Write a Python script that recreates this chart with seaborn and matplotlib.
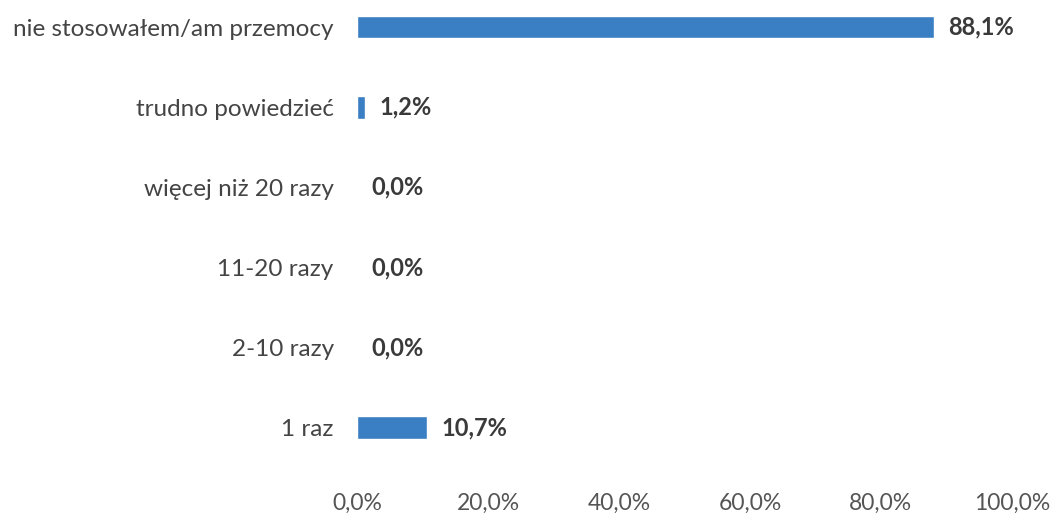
import matplotlib.pyplot as plt
import pandas as pd
import seaborn as sns

# Data
categories = ['nie stosowałem/am przemocy', 'trudno powiedzieć', 'więcej niż 20 razy',
              '11-20 razy', '2-10 razy', '1 raz']
values = [88.1, 1.2, 0.0, 0.0, 0.0, 10.7]
xticks = [0, 20, 40, 60, 80, 100]

df = pd.DataFrame({'category': categories, 'value': values})

sns.set_style('white')
plt.rcParams['font.family'] = ['Lato', 'DejaVu Sans']

fig = plt.figure(figsize=(10.54, 5.15), dpi=100)
ax = fig.add_axes([0.339, 0.078, 0.621, 0.922])

sns.barplot(data=df, x='value', y='category', orient='h', color='#3a7fc3',
            saturation=1, width=0.28, ax=ax)

for i, v in enumerate(values):
    ax.annotate(f'{v:.1f}%'.replace('.', ','), xy=(v, i), xytext=(10, 0),
                textcoords='offset points', va='center', ha='left',
                fontsize=17, fontweight='bold', color='#3a3a3a')

ax.set_xlim(0, 100)
ax.set_ylim(5.59, -0.34)
ax.set_xticks(xticks)
ax.set_xticklabels([f'{t:.1f}%'.replace('.', ',') for t in xticks])
ax.set(xlabel='', ylabel='')
ax.tick_params(axis='y', labelsize=17.5, labelcolor='#444444', length=0, pad=17)
ax.tick_params(axis='x', labelsize=16.5, labelcolor='#555555', length=0, pad=13)
sns.despine(ax=ax, left=True, bottom=True)

fig.savefig('out.png', dpi=100)
